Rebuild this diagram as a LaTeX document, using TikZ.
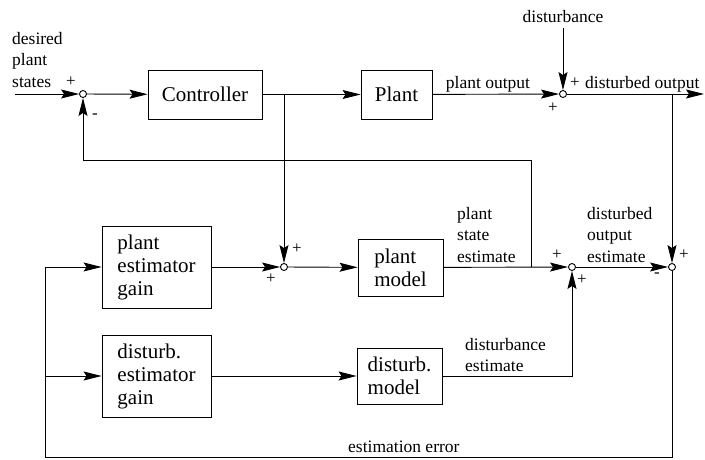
\documentclass[tikz,border=0pt]{standalone}
\usepackage{fontspec}
\setmainfont{Liberation Serif}[Ligatures=TeX]
\usetikzlibrary{arrows.meta}
\begin{document}
\begin{tikzpicture}[x=1pt,y=-1pt,
  blk/.style={draw, line width=0.9pt, inner sep=0pt, font=\fontsize{21}{23}\selectfont, align=left},
  sumc/.style={draw, circle, minimum size=7pt, inner sep=0pt, line width=0.9pt, fill=white},
  lbl/.style={font=\fontsize{17.5}{21.5}\selectfont, align=left, inner sep=0pt},
  sgn/.style={font=\fontsize{17}{17}\selectfont, inner sep=0pt},
  wire/.style={line width=0.9pt},
  arr/.style={wire, -{Stealth[length=18pt,width=9pt,inset=3pt]}},
]
\useasboundingbox (0,0) rectangle (705,459);

% blocks
\node[blk, minimum width=114pt, minimum height=49pt] (ctrl) at (205,94.5) {Controller};
\node[blk, minimum width=71pt, minimum height=49pt] (plant) at (396.5,94.5) {Plant};
\node[blk, minimum width=109pt, minimum height=82pt] (peg) at (156.5,267) {plant\\estimator\\gain};
\node[blk, minimum width=109pt, minimum height=82pt] (deg) at (156.5,376) {disturb.\\estimator\\gain};
\node[blk, minimum width=85pt, minimum height=57pt] (pmodel) at (400.5,267.5) {plant\\model};
\node[blk, minimum width=85pt, minimum height=56pt] (dmodel) at (399.5,376) {disturb.\\model};

% summers
\node[sumc] (sum1) at (83,94) {};
\node[sumc] (sum2) at (563,94) {};
\node[sumc] (sum3) at (284,267) {};
\node[sumc] (sum4) at (572,267) {};
\node[sumc] (sum5) at (672,267) {};

% labels
\node[lbl, anchor=north west] (lin) at (12,32) {desired\\plant\\states};
\node[lbl, anchor=base] (lpo) at (488,88) {plant output};
\node[lbl, anchor=base] (dist) at (563,22) {disturbance};
\node[lbl, anchor=base west] (ldo) at (585,88) {disturbed output};
\node[lbl, anchor=north west] (lpse) at (457,207) {plant\\state\\estimate};
\node[lbl, anchor=north west] (ldoe) at (587,207) {disturbed\\output\\estimate};
\node[lbl, anchor=north west] (lde) at (465,338) {disturbance\\estimate};
\node[lbl, anchor=base west] (lee) at (348,452) {estimation error};

% signs
\node[sgn] (s1a) at (71,82) {+};
\node[sgn] (s1b) at (95,116) {-};
\node[sgn] (s2a) at (575,83) {+};
\node[sgn] (s2b) at (553,108) {+};
\node[sgn] (s3a) at (297,249) {+};
\node[sgn] (s3b) at (271,279) {+};
\node[sgn] (s4a) at (557,255) {+};
\node[sgn] (s4b) at (582,280) {+};
\node[sgn] (s5a) at (684,255) {+};
\node[sgn] (s5b) at (657,275) {-};

% coordinates
\coordinate (in) at (15,94);
\coordinate (brc) at (284,94);
\coordinate (distt) at (563,28);
\coordinate (out) at (704,94);
\coordinate (tap1) at (672,94);
\coordinate (tap2) at (531,267);
\coordinate (fbA) at (531,160);
\coordinate (botL) at (45,457);
\coordinate (jn) at (45,376);

% connectors
\draw[arr] (in) -- (sum1);
\draw[arr] (sum1) -- (ctrl);
\draw[arr] (ctrl) -- (plant);
\draw[arr] (brc) -- (sum3);
\draw[arr] (plant) -- (sum2);
\draw[arr] (distt) -- (sum2);
\draw[arr] (sum2) -- (out);
\draw[arr] (tap1) -- (sum5);
\draw[arr] (tap2) -- (fbA) -| (sum1);
\draw[arr] (peg) -- (sum3);
\draw[arr] (sum3) -- (pmodel);
\draw[arr] (pmodel) -- (sum4);
\draw[arr] (sum4) -- (sum5);
\draw[arr] (deg) -- (dmodel);
\draw[arr] (dmodel) -| (sum4);
\draw[arr] (sum5) |- (botL) |- (peg);
\draw[arr] (jn) -- (deg);
\end{tikzpicture}
\end{document}
